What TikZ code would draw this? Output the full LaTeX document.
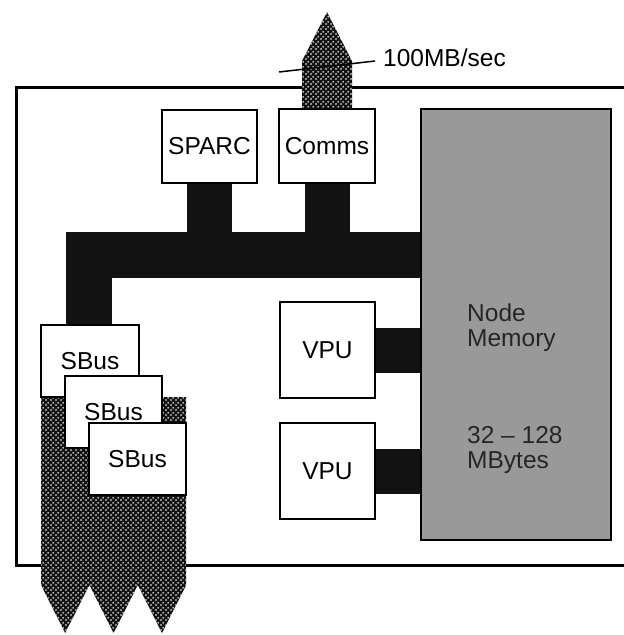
\documentclass[tikz,border=0pt]{standalone}
\usepackage{fontspec}
\setmainfont{Liberation Sans}
\usetikzlibrary{patterns}
\definecolor{BusClr}{rgb}{0.07,0.07,0.07}
\definecolor{MemClr}{rgb}{0.6,0.6,0.6}
\pgfdeclarepatternformonly{NetDots}{\pgfpointorigin}{\pgfpoint{5pt}{5pt}}{\pgfpoint{5pt}{5pt}}{%
  \pgfpathcircle{\pgfpoint{1.25pt}{1.25pt}}{1.05pt}%
  \pgfpathcircle{\pgfpoint{3.75pt}{3.75pt}}{1.05pt}%
  \pgfusepath{fill}}

\begin{document}
\begin{tikzpicture}[x=1pt,y=-1pt,
  every node/.style={inner sep=0pt,font=\fontsize{24.5}{25}\selectfont},
  box/.style={draw,line width=1.8pt,fill=white},
  bus/.style={draw=BusClr,line width=45pt},
  net/.style={preaction={fill=BusClr},pattern=NetDots,pattern color=white}]
\useasboundingbox (0,0) rectangle (624,635);
% board
\draw[line width=3pt] (16,87) rectangle (660,565);

\node[box,fill=MemClr,line width=2.2pt,minimum width=190pt,minimum height=431pt] (mem) at (516,324.5) {};
\node[anchor=north west,align=left,text=black!85] (memname) at (467,304) {Node\\Memory};
\node[anchor=north west,align=left,text=black!85] (memsize) at (467,426) {32 – 128\\MBytes};

\node[box,minimum width=95pt,minimum height=73pt] (sparc) at (209.5,146.5) {SPARC};
\node[box,minimum width=96pt,minimum height=74pt] (comms) at (327,146) {Comms};
\node[box,minimum width=95pt,minimum height=96pt] (vpu1) at (327.5,350) {VPU};
\node[box,minimum width=95pt,minimum height=96pt] (vpu2) at (327.5,471) {VPU};

% network links
\path[net] ([xshift=-25pt]comms.north) -- ++(0,-47) -- ++(25,-49) -- ++(25,49) -- ++(0,47) -- cycle;
\path[net] (41,397) -- ++(0,188) -- ++(24.2,48) -- ++(24.2,-48) -- ++(24.2,48)
  -- ++(24.2,-48) -- ++(24.2,48) -- ++(24.2,-48) -- (186.2,397) -- cycle;

\node[box,minimum width=98pt,minimum height=72pt] (sbus1) at (90,361) {SBus};
\node[box,minimum width=97pt,minimum height=72pt] (sbus2) at (113.5,412) {SBus};
\node[box,minimum width=97pt,minimum height=72pt] (sbus3) at (137.5,459) {SBus};

% buses
\coordinate (corner) at (89,255);
\draw[bus,line width=46pt] (sbus1.north -| corner) |- (mem.west |- corner);
\draw[bus] (sparc.south) -- (sparc.south |- corner);
\draw[bus] (comms.south) -- (comms.south |- corner);
\draw[bus] (vpu1.east) -- (vpu1.east -| mem.west);
\draw[bus] (vpu2.east) -- (vpu2.east -| mem.west);

\coordinate (tickL) at (279,72);
\coordinate (tickR) at (375,61);
\draw[line width=1.5pt] (tickL) -- (tickR);
\node[anchor=west] (rate) at (383,58) {100MB/sec};
\end{tikzpicture}
\end{document}
